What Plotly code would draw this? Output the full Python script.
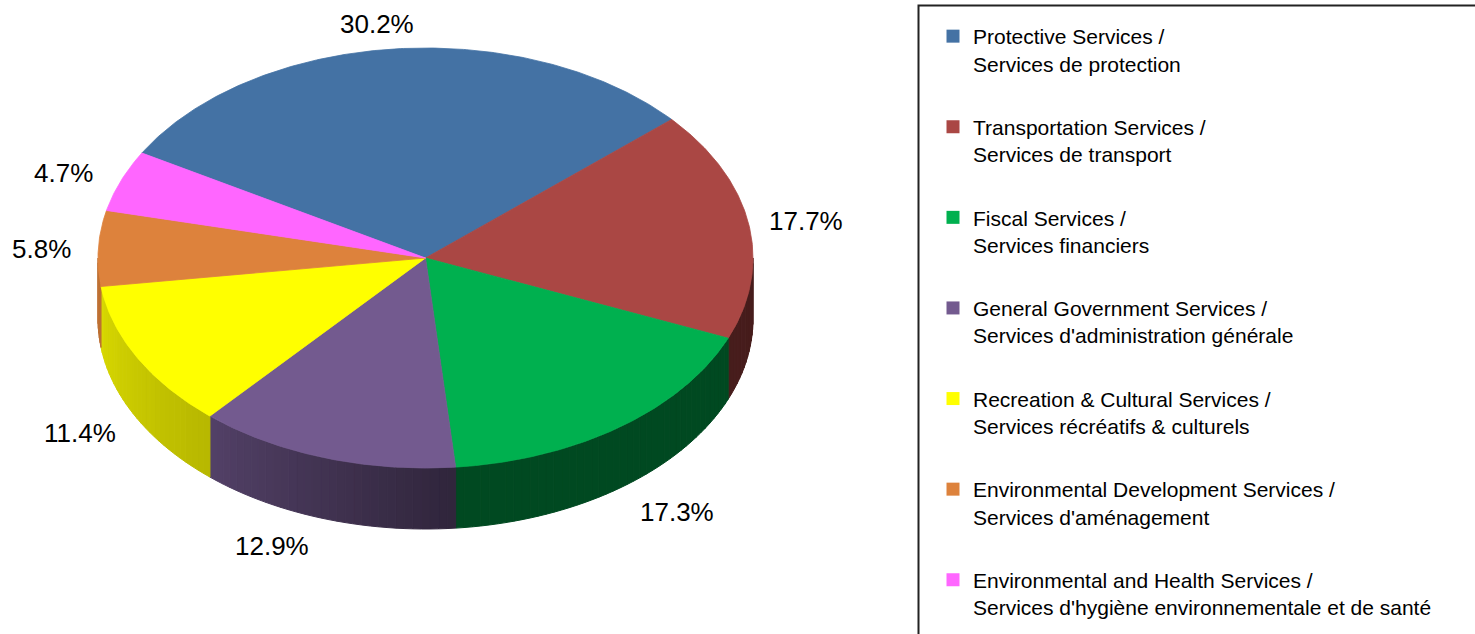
import numpy as np
import plotly.graph_objects as go

# ---------------- data ----------------
categories = [
    "Protective Services /<br>Services de protection",
    "Transportation Services /<br>Services de transport",
    "Fiscal Services /<br>Services financiers",
    "General Government Services /<br>Services d'administration générale",
    "Recreation & Cultural Services /<br>Services récréatifs & culturels",
    "Environmental Development Services /<br>Services d'aménagement",
    "Environmental and Health Services /<br>Services d'hygiène environnementale et de santé",
]
shares = [30.2, 17.7, 17.3, 12.9, 11.4, 5.8, 4.7]
colors = ["#4472A4", "#AA4744", "#00B04F", "#735A8F", "#FFFF00", "#DD823C", "#FF66FF"]
value_labels = [f"{v:.1f}%" for v in shares]

# ---------------- geometry / style ----------------
W, H = 1475, 634
CX, CY, RX, RY, DEPTH = 425.5, 258.0, 327.5, 210.0, 61.0
START = -60.0  # degrees, clockwise from 12 o'clock


def rim(a_deg, dy=0.0):
    r = np.radians(a_deg)
    return CX + RX * np.sin(r), CY - RY * np.cos(r) + dy


def shade(a_deg):
    # brightness factor of the side wall as a function of angle
    return float(np.interp(a_deg, [90, 175, 221, 262, 270], [0.42, 0.42, 0.72, 0.85, 0.87]))


def scale_color(hex_c, f):
    h = hex_c.lstrip("#")
    r, g, b = (int(h[i:i + 2], 16) for i in (0, 2, 4))
    return "rgb({},{},{})".format(int(r * f), int(g * f), int(b * f))


total = sum(shares)
bounds = [START]
for v in shares:
    bounds.append(bounds[-1] + 360.0 * v / total)

fig = go.Figure()

# side walls (front half only), drawn as shaded strips
for i, c in enumerate(colors):
    a0, a1 = bounds[i], bounds[i + 1]
    s, e = max(a0, 90.0), min(a1, 270.0)
    if e <= s:
        continue
    n = max(1, int(np.ceil((e - s) / 1.5)))
    edges = np.linspace(s, e, n + 1)
    for k in range(n):
        t = np.linspace(edges[k], edges[k + 1], 6)
        xt, yt = rim(t)
        xb, yb = rim(t[::-1], DEPTH)
        xs = np.concatenate([xt, xb, xt[:1]])
        ys = np.concatenate([yt, yb, yt[:1]])
        col = scale_color(c, shade(0.5 * (edges[k] + edges[k + 1])))
        fig.add_trace(go.Scatter(
            x=xs, y=ys, mode="lines", fill="toself", fillcolor=col,
            line=dict(color=col, width=1), hoverinfo="skip", showlegend=False))

# top faces
for i, c in enumerate(colors):
    a0, a1 = bounds[i], bounds[i + 1]
    t = np.linspace(a0, a1, max(2, int((a1 - a0) / 0.5) + 1))
    xa, ya = rim(t)
    xs = np.concatenate([[CX], xa, [CX]])
    ys = np.concatenate([[CY], ya, [CY]])
    fig.add_trace(go.Scatter(
        x=xs, y=ys, mode="lines", fill="toself", fillcolor=c,
        line=dict(color=c, width=0.8), hoverinfo="skip", showlegend=False))

# legend entries
for i, (name, c) in enumerate(zip(categories, colors)):
    fig.add_trace(go.Scatter(
        x=[None], y=[None], mode="markers", name=name, legendgroup=str(i),
        marker=dict(symbol="square", size=13, color=c), hoverinfo="skip"))

# value labels
for i, lab in enumerate(value_labels):
    mid = 0.5 * (bounds[i] + bounds[i + 1])
    r = np.radians(mid)
    sn, cs = np.sin(r), np.cos(r)
    px, py = rim(mid, DEPTH if cs < 0 else 0.0)
    lx = px + 57 * float(np.clip(3 * sn, -1, 1))
    ly = py - 27 * cs
    fig.add_annotation(x=lx, y=ly, text=lab, showarrow=False, yshift=-2,
                       xanchor="center", yanchor="middle",
                       font=dict(family="Liberation Sans, Arial, sans-serif", size=26, color="#000"))

# legend frame
fig.add_shape(type="rect", xref="x", yref="y", x0=918.5, x1=1500, y0=5.5, y1=700,
              line=dict(color="#222", width=2), fillcolor="rgba(0,0,0,0)", layer="below")

fig.update_layout(
    width=W, height=H, margin=dict(l=0, r=0, t=0, b=0),
    paper_bgcolor="white", plot_bgcolor="white",
    xaxis=dict(range=[0, W], visible=False, fixedrange=True),
    yaxis=dict(range=[H, 0], visible=False, fixedrange=True),
    showlegend=True,
    legend=dict(x=933 / W, y=1 - 16 / H, xanchor="left", yanchor="top",
                bgcolor="rgba(0,0,0,0)", borderwidth=0,
                font=dict(family="Liberation Sans, Arial, sans-serif", size=21, color="#000"),
                valign="top", tracegroupgap=33, itemsizing="trace",
                traceorder="grouped"),
)

fig.write_html("out.html", config={"displayModeBar": False},
               post_script="document.body.style.margin='0';")
